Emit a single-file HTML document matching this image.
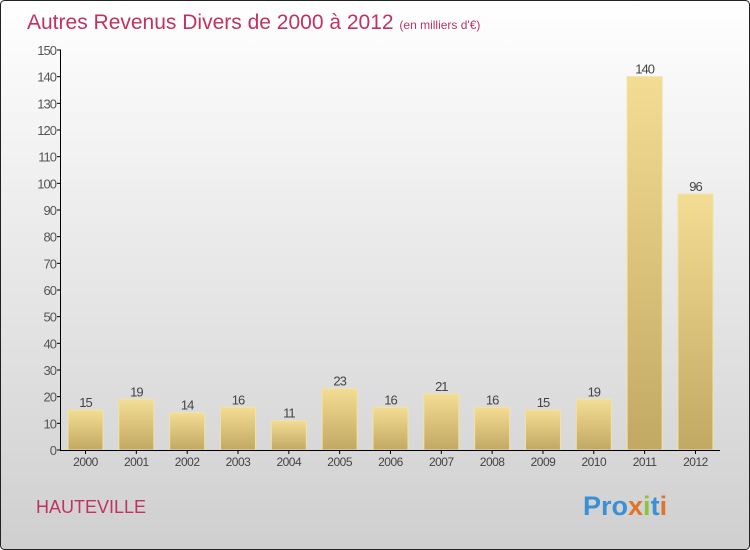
<!DOCTYPE html>
<html><head><meta charset="utf-8"><style>
body{margin:0}
svg{display:block;font-family:"Liberation Sans",sans-serif}
</style></head><body>
<svg id="c" width="750" height="550">
<defs>
<linearGradient id="bg" x1="0" y1="0" x2="0" y2="1"><stop offset="0" stop-color="#ffffff"/><stop offset="1" stop-color="#cfcfcf"/></linearGradient>
<linearGradient id="bar" x1="0" y1="0" x2="0" y2="1"><stop offset="0" stop-color="#f3dc94"/><stop offset="1" stop-color="#c2a963"/></linearGradient>
</defs>
<rect x="0.5" y="0.5" width="749" height="549" rx="4" fill="url(#bg)" stroke="#222"/>
<text x="27" y="29" font-size="21" fill="#c0335f">Autres Revenus Divers de 2000 à 2012 <tspan font-size="12">(en milliers d'€)</tspan></text>
<text x="36" y="513" font-size="18" fill="#c0335f">HAUTEVILLE</text>
<text x="583" y="515" font-size="27" font-weight="bold"><tspan fill="#3a8fd6">Pro</tspan><tspan fill="#e0742c">x</tspan><tspan fill="#8ac43c">i</tspan><tspan fill="#3a8fd6">t</tspan><tspan fill="#e0742c">i</tspan></text>
<g id="plot"></g>
</svg>
<script>
const categories=["2000","2001","2002","2003","2004","2005","2006","2007","2008","2009","2010","2011","2012"];
const values=[15,19,14,16,11,23,16,21,16,15,19,140,96];
const yTicks=[0,10,20,30,40,50,60,70,80,90,100,110,120,130,140,150];
const NS="http://www.w3.org/2000/svg";
const g=document.getElementById('plot');
const y=v=>450-v*400/150;
const x=i=>85.5+i*50.83;
function el(t,a,txt){const e=document.createElementNS(NS,t);for(const k in a)e.setAttribute(k,a[k]);if(txt!=null)e.textContent=txt;g.appendChild(e);return e;}
yTicks.forEach(v=>{
 const l=el('line',{x1:57,x2:61,y1:y(v),y2:y(v),stroke:'#000'});
 
 
 const t=el('text',{x:56,y:y(v)+5,'text-anchor':'end','font-size':13,fill:'#555','letter-spacing':'-1'},v);
 
 
});
categories.forEach((c,i)=>{
 const r=el('rect',{x:x(i)-17.5,y:y(values[i]),width:35,height:450-y(values[i]),fill:'url(#bar)',stroke:'#f1e3a4','stroke-width':1});
 
 
 const v=el('text',{x:x(i),y:y(values[i])-3,'text-anchor':'middle','font-size':13,fill:'#444','letter-spacing':'-1'},values[i]);
 
 
 const tk=el('line',{x1:x(i),x2:x(i),y1:450,y2:454,stroke:'#000'});
 
 
 const t=el('text',{x:x(i),y:466,'text-anchor':'middle','font-size':12,fill:'#444','letter-spacing':'-0.5'},c);
 
 
});
const ya=el('line',{x1:60.5,x2:60.5,y1:50,y2:450.5,stroke:'#000'});


const xa=el('line',{x1:60,x2:720,y1:450.5,y2:450.5,stroke:'#000'});


</script>
</body></html>
